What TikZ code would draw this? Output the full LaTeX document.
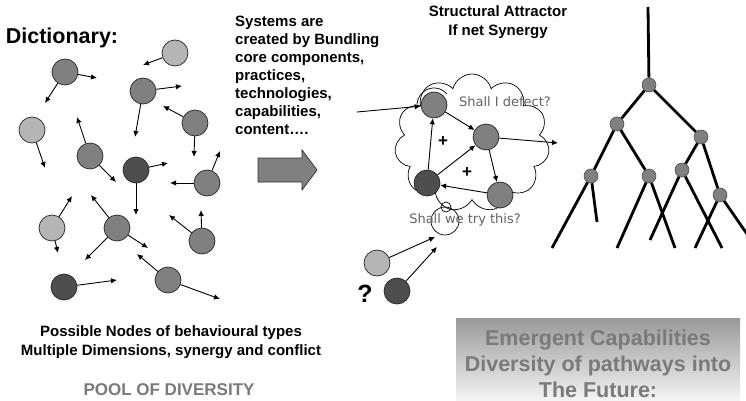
\documentclass[tikz,border=0pt]{standalone}
\usepackage{fontspec}
\setmainfont{Liberation Sans}
\newfontfamily\thoughtfont{DejaVu Sans}
\usetikzlibrary{arrows.meta,shapes.symbols}
\definecolor{lightball}{HTML}{B5B5B5}
\definecolor{midball}{HTML}{808080}
\definecolor{darkball}{HTML}{4E4E4E}
\definecolor{fadedtext}{HTML}{7A7A7A}

\tikzset{
    ball/.style={circle, draw=black!85, line width=0.7pt, minimum size=26pt, inner sep=0pt},
    vec/.style={-{Latex[length=6pt,width=5.5pt]}, line width=0.9pt},
    knot/.style={circle, draw=black!70, line width=0.6pt, fill=gray, minimum size=14pt, inner sep=0pt},
    branch/.style={line width=2.8pt},
    bubble/.style={circle, draw, line width=0.7pt, inner sep=0pt},
    heading/.style={font=\bfseries\fontsize{15}{18}\selectfont, inner sep=0pt},
    thought/.style={font=\thoughtfont\fontsize{13}{15}\selectfont, text=black!62, inner sep=0pt}
}

\begin{document}
\begin{tikzpicture}[x=1pt, y=-1pt]
    \useasboundingbox (0,0) rectangle (746,401);

    \node[font=\bfseries\fontsize{21.5}{24}\selectfont, inner sep=0pt] (dict) at (62,38) {Dictionary:};

    \foreach \n/\x/\y/\tone in {d1/175/53/lightball, d2/65/72/midball, d3/143/91/midball,
        d4/32/130/lightball, d5/195/123/midball, d6/90/156/midball, d7/136/170/darkball,
        d8/207/183/midball, d9/52/228/lightball, d10/117/228/midball, d11/202/241/midball,
        d12/64/287/darkball, d13/168/280/midball}
        \node[ball, fill=\tone] (\n) at (\x,\y) {};

    \foreach \s/\t/\x/\y in {d1/e1/143/65, d2/e2/97/78, d2/e3/45/103, d3/e4/182/86,
        d3/e5/135/137, d4/e6/45/168, d5/e7/163/106, d5/e8/194/157, d6/e9/77/117,
        d6/e10/116/182, d7/e11/168/163, d7/e12/136/215, d8/e13/170/183, d8/e14/220/151,
        d9/e15/72/196, d9/e16/58/253, d10/e17/91/195, d10/e18/148/248, d10/e19/85/260,
        d11/e20/201/210, d11/e21/169/215, d12/e22/117/280, d13/e23/137/254, d13/e24/220/299} {
        \coordinate (\t) at (\x,\y);
        \draw[vec] (\s) -- (\t);
    }

    \node[heading, anchor=north west, align=left] (bundling) at (235,16)
        {Systems are\\created by Bundling\\core components,\\practices,\\technologies,\\capabilities,\\content\dots.};

    \fill[midball, draw=black!80, line width=0.7pt] (258,158) -- (302,158) -- (302,150) -- (317,170)
        -- (302,190) -- (302,182) -- (258,182) -- cycle;

    \node[heading, align=center, font=\bfseries\fontsize{15}{19}\selectfont] (attractor) at (498,22)
        {Structural Attractor\\If net Synergy};

    \node[cloud, draw, line width=0.7pt, cloud puffs=11, minimum width=155pt, minimum height=138pt,
        cloud ignores aspect] (swarm) at (472,143) {};
    \node[bubble, minimum size=10pt] (bub1) at (446,207) {};
    \node[bubble, minimum size=28pt] (bub2) at (445,221) {};

    \node[ball, fill=midball] (p1) at (434,105) {};
    \node[ball, fill=midball] (p2) at (486,137) {};
    \node[ball, fill=darkball] (p3) at (427,183) {};
    \node[ball, fill=midball] (p4) at (500,195) {};
    \draw[line width=0.7pt] (p1.center) ++(40:17pt) arc[start angle=40, end angle=190, radius=17pt];

    \coordinate (inflow) at (357,112);
    \coordinate (outflow) at (558,143);
    \draw[vec] (inflow) -- (p1);
    \draw[vec] (p1) -- (p2);
    \draw[vec] (p3) -- (p1);
    \draw[vec] (p3) -- (p2);
    \draw[vec] (p2) -- (p4);
    \draw[vec] (p4) -- (p3);
    \draw[vec] (p2) -- (outflow);

    \node[font=\bfseries\fontsize{17}{17}\selectfont] (plus1) at (443,142) {+};
    \node[font=\bfseries\fontsize{17}{17}\selectfont] (plus2) at (467,173) {+};

    \node[thought] (defect) at (505,102) {Shall I defect?};
    \node[thought] (try) at (465,220) {Shall we try this?};

    \node[ball, fill=lightball] (q1) at (377,263) {};
    \node[ball, fill=darkball] (q2) at (397,291) {};
    \coordinate (qend1) at (435,237);
    \coordinate (qend2) at (437,247);
    \draw[vec] (q1) -- (qend1);
    \draw[vec] (q2) -- (qend2);
    \node[font=\bfseries\fontsize{25}{25}\selectfont, inner sep=0pt] (ask) at (365,294) {?};

    \node[knot] (r) at (649,85) {};
    \node[knot] (a1) at (617,124) {};
    \node[knot] (a2) at (701,137) {};
    \node[knot] (b1) at (591,176) {};
    \node[knot] (b2) at (649,176) {};
    \node[knot] (a3) at (682,170) {};
    \node[knot] (c1) at (720,195) {};
    \coordinate (stem) at (648,7);
    \draw[branch] (stem) -- (r) (r) -- (a1) (r) -- (a2) (a1) -- (b1) (a1) -- (b2)
        (a2) -- (a3) (a2) -- (c1);
    \foreach \s/\t/\x/\y in {b1/f1/552/248, b1/f2/597/222, b2/f3/617/248, b2/f4/675/248,
        a3/f5/650/240, a3/f6/722/248, c1/f7/695/248, c1/f8/747/234} {
        \coordinate (\t) at (\x,\y);
        \draw[branch] (\s) -- (\t);
    }

    \node[heading, align=center, font=\bfseries\fontsize{15}{19}\selectfont] (possible) at (171,342)
        {Possible Nodes of behavioural types\\Multiple Dimensions, synergy and conflict};
    \node[heading, text=fadedtext, font=\bfseries\fontsize{17}{17}\selectfont] (pool) at (169,390)
        {POOL OF DIVERSITY};

    \node[top color=black!40, bottom color=white, minimum width=284pt, minimum height=92pt,
        inner sep=0pt, text=fadedtext, align=center, font=\bfseries\fontsize{21.5}{26}\selectfont]
        (future) at (598,364) {Emergent Capabilities\\Diversity of pathways into\\The Future:};
\end{tikzpicture}
\end{document}
